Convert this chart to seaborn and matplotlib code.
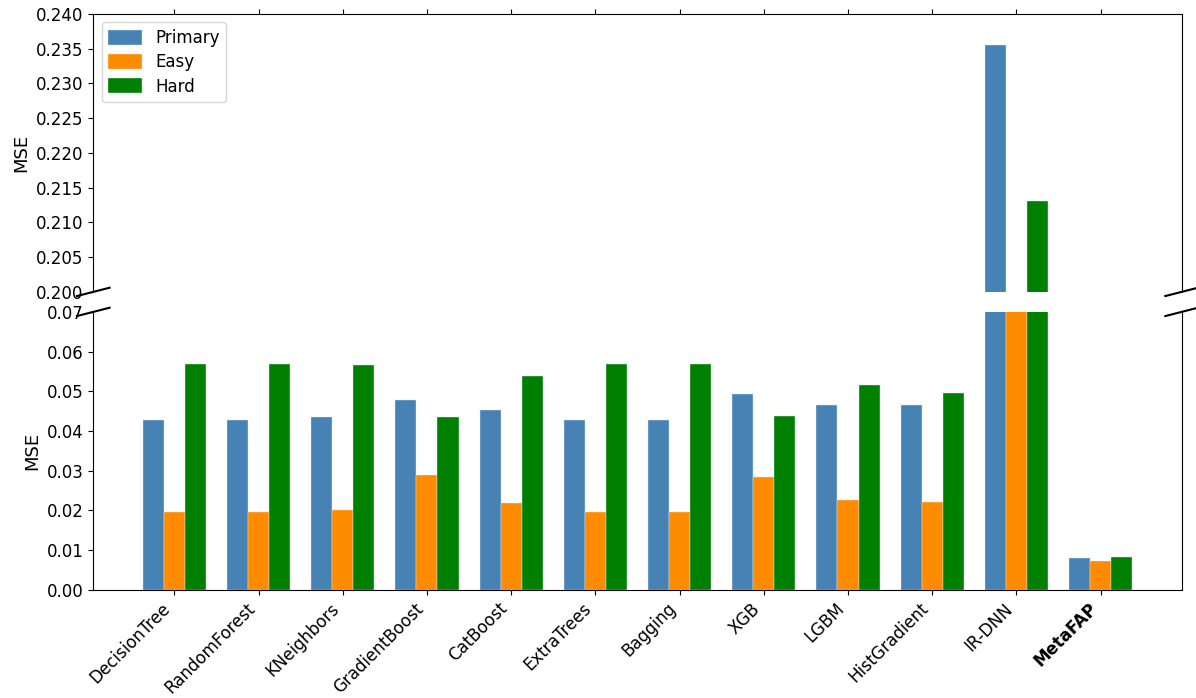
import matplotlib
matplotlib.use("Agg")
import matplotlib.pyplot as plt
import seaborn as sns
import pandas as pd

# MSE per model
models = ["DecisionTree", "RandomForest", "KNeighbors", "GradientBoost", "CatBoost",
          "ExtraTrees", "Bagging", "XGB", "LGBM", "HistGradient", "IR-DNN", "MetaFAP"]
primary = [0.0427, 0.0427, 0.0435, 0.0479, 0.0452, 0.0427, 0.0427, 0.0492, 0.0465, 0.0466, 0.2355, 0.0079]
easy = [0.0195, 0.0197, 0.0200, 0.0290, 0.0218, 0.0195, 0.0197, 0.0283, 0.0225, 0.0222, 0.1500, 0.0072]
hard = [0.0570, 0.0568, 0.0565, 0.0435, 0.0538, 0.0570, 0.0568, 0.0438, 0.0516, 0.0496, 0.2131, 0.0083]
splits = ["Primary", "Easy", "Hard"]
colors = ["steelblue", "darkorange", "green"]

df = pd.DataFrame({
    "Model": models * 3,
    "Split": ["Primary"] * len(models) + ["Easy"] * len(models) + ["Hard"] * len(models),
    "MSE": primary + easy + hard,
})

plt.rcParams["font.family"] = ["DejaVu Sans"]

fig, (ax1, ax2) = plt.subplots(2, 1, sharex=True, figsize=(11.96, 6.98), dpi=100)
fig.subplots_adjust(left=0.078, right=0.988, top=0.98, bottom=0.155, hspace=0.072)

for ax, show_legend in ((ax1, True), (ax2, False)):
    sns.barplot(data=df, x="Model", y="MSE", hue="Split", order=models, hue_order=splits,
                palette=colors, saturation=1, width=0.75, ax=ax, legend=show_legend,
                linewidth=0.3, edgecolor="#dde8f0")
    ax.set_ylabel("MSE", fontsize=13)
    ax.set_xlabel("")
    ax.tick_params(labelsize=12)

ax1.set_ylim(0.200, 0.240)
ax2.set_ylim(0.0, 0.07)
ax1.set_yticks([0.200, 0.205, 0.210, 0.215, 0.220, 0.225, 0.230, 0.235, 0.240])
ax1.set_yticklabels([f"{v:.3f}" for v in ax1.get_yticks()])
ax2.set_yticks([0.0, 0.01, 0.02, 0.03, 0.04, 0.05, 0.06, 0.07])
ax2.set_yticklabels([f"{v:.2f}" for v in ax2.get_yticks()])
ax2.set_xlim(-0.9625, len(models) - 1 + 0.9625)

ax1.spines["bottom"].set_visible(False)
ax2.spines["top"].set_visible(False)
ax1.xaxis.tick_top()
ax1.tick_params(labeltop=False)
ax2.xaxis.tick_bottom()

ax2.set_xticks(range(len(models)))
ax2.set_xticklabels(models, rotation=45, ha="right", fontsize=12)
ax2.get_xticklabels()[-1].set_fontweight("bold")

ax1.legend(loc="upper left", fontsize=12, labelspacing=0.38, handleheight=1.0)

# break marks
d = 0.015
kw = dict(transform=ax1.transAxes, color="k", clip_on=False, lw=1.5)
ax1.plot((-d, +d), (-d, +d), **kw)
ax1.plot((1 - d, 1 + d), (-d, +d), **kw)
kw.update(transform=ax2.transAxes)
ax2.plot((-d, +d), (1 - d, 1 + d), **kw)
ax2.plot((1 - d, 1 + d), (1 - d, 1 + d), **kw)

fig.savefig("out.png", dpi=100)
